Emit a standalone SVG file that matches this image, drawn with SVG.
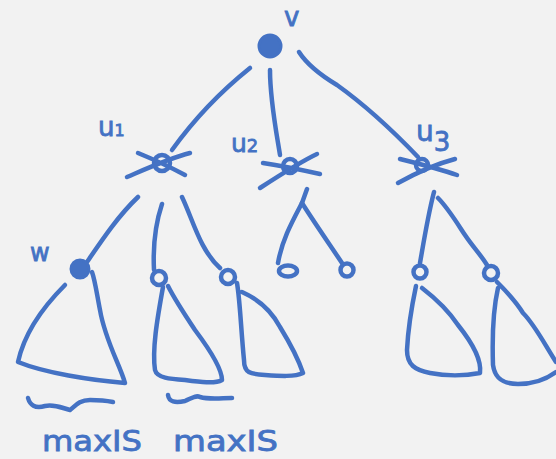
<svg xmlns="http://www.w3.org/2000/svg" width="556" height="459" viewBox="0 0 556 459">
<style>
.s{fill:none;stroke:#4472C4;stroke-width:4.5;stroke-linecap:round;stroke-linejoin:round}
.f{fill:#4472C4;stroke:#4472C4;stroke-width:3}
.t{fill:#4472C4;stroke:#4472C4;stroke-width:0.8;font-family:"DejaVu Sans","Noto Sans",sans-serif}
</style>
<rect width="556" height="459" fill="#F2F2F2"/>
<g id="connectors">
<path class="s" d="M250,68 C225,88 195,118 172,150"/>
<path class="s" d="M270,70 C270,100 276,130 280,155"/>
<path class="s" d="M299,52 C308,66 322,76 337,85 C365,105 395,133 418,157"/>
<path class="s" d="M138,197 C118,216 102,240 87,262"/>
<path class="s" d="M162,204 C155,225 153,250 154,270"/>
<path class="s" d="M182,197 C193,220 200,250 220,268"/>
<path class="s" d="M307,189 L302,203 C292,222 282,240 278,263"/>
<path class="s" d="M302,203 C316,225 330,245 342,263"/>
<path class="s" d="M434,192 C428,215 424,240 420,263"/>
<path class="s" d="M438,198 C448,208 457,223 465,235 C473,247 481,255 487,265"/>
</g>
<g id="v">
<circle class="f" cx="270" cy="46" r="11"/>
<text class="t" x="284" y="26" font-size="26">v</text>
</g>
<g id="u1">
<circle class="s" cx="162" cy="163" r="8"/>
<path class="s" d="M138,153 C155,160 172,168 185,175 M127,177 C148,168 170,158 190,153"/>
<text class="t" x="98" y="136" font-size="26">u<tspan font-size="16">1</tspan></text>
</g>
<g id="u2">
<circle class="s" cx="290" cy="166" r="7"/>
<path class="s" d="M263,163 C283,166 302,170 320,174 M260,188 C280,175 300,162 317,154"/>
<text class="t" x="231" y="152" font-size="25">u<tspan font-size="18">2</tspan></text>
</g>
<g id="u3">
<circle class="s" cx="422" cy="165" r="6"/>
<path class="s" d="M400,159 C420,164 440,169 457,175 M398,183 C416,173 436,164 455,159"/>
<text class="t" x="416" y="141" font-size="28">u<tspan font-size="26" dy="10">3</tspan></text>
</g>
<g id="w">
<circle class="f" cx="80" cy="269" r="9"/>
<text class="t" x="30" y="261" font-size="24">w</text>
<path class="s" d="M65,285 C45,305 25,330 18,362 C45,373 90,380 125,383 C120,365 105,340 100,310 C97,295 95,280 92,272"/>
</g>
<g id="n2">
<circle class="s" cx="159" cy="278" r="7"/>
<path class="s" d="M163,287 C157,320 152,350 155,370 C157,378 170,379 185,380 C200,382 215,384 222,380 C222,370 210,350 195,330 C185,315 175,300 168,286"/>
</g>
<g id="n3">
<circle class="s" cx="228" cy="277" r="7"/>
<path class="s" d="M237,283 C240,300 241,330 244,360 C244,373 250,374 265,375 C280,376 295,377 303,373 C297,355 288,340 280,327 C272,312 260,300 242,292"/>
</g>
<g id="n4"><ellipse class="s" cx="288" cy="271" rx="9" ry="5.5"/></g>
<g id="n5"><circle class="s" cx="347" cy="270" r="6.5"/></g>
<g id="n6">
<circle class="s" cx="420" cy="272" r="6.5"/>
<path class="s" d="M416,286 C412,305 408,330 407,350 C407,365 415,370 430,373 C445,376 465,376 480,373 C482,358 470,340 458,325 C448,310 435,298 422,288"/>
</g>
<g id="n7">
<circle class="s" cx="491" cy="273" r="7"/>
<path class="s" d="M498,288 C493,310 492,335 493,365 C495,380 505,384 518,384 C535,384 548,378 556,372 M556,362 C545,345 535,325 523,313 C515,300 505,290 497,282"/>
</g>
<g id="maxis1">
<path class="s" d="M28,398 C30,405 35,409 45,406 C55,404 62,408 70,410 C76,405 80,400 90,400 C100,400 108,401 113,402"/>
<text class="t" x="42" y="451" font-size="28" textLength="100" lengthAdjust="spacingAndGlyphs">maxIS</text>
</g>
<g id="maxis2">
<path class="s" d="M168,395 C169,402 175,403 185,401 C192,398 196,395 200,397 C210,400 222,398 232,398"/>
<text class="t" x="173" y="451" font-size="28" textLength="105" lengthAdjust="spacingAndGlyphs">maxIS</text>
</g>
</svg>
